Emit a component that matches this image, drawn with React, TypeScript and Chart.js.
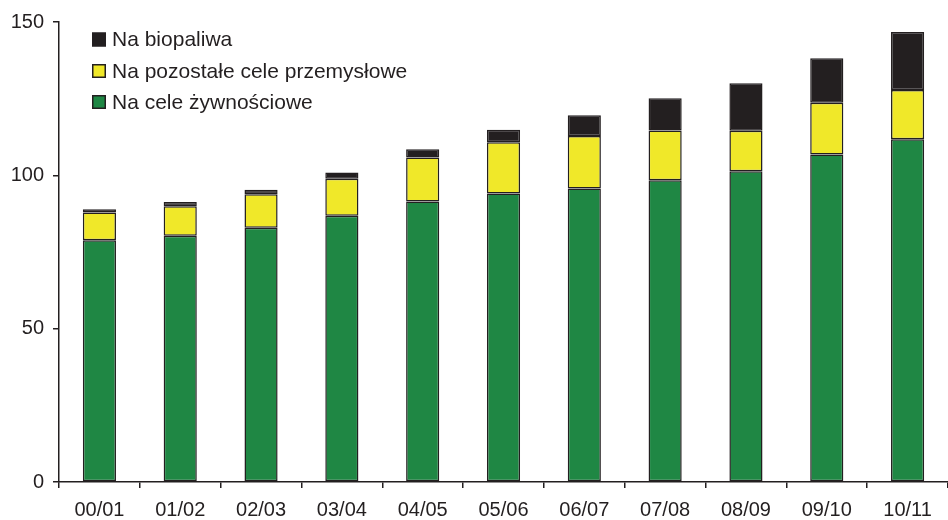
import React, { useEffect, useRef } from "react";
import { Chart, registerables } from "chart.js";

Chart.register(...registerables);

// Marketing years
const seasons = ["00/01", "01/02", "02/03", "03/04", "04/05", "05/06", "06/07", "07/08", "08/09", "09/10", "10/11"];

// Use of vegetable oils (mln t), stacked components
const foodUse = [78.8, 80.3, 82.9, 86.8, 91.5, 94.1, 95.7, 98.4, 101.3, 106.8, 111.8];
const otherIndustrialUse = [9.1, 9.6, 10.9, 12.1, 14.3, 16.7, 17.1, 16.2, 13.2, 16.9, 16.0];
const biofuelUse = [1.0, 1.4, 1.5, 2.0, 2.7, 4.1, 6.8, 10.5, 15.5, 14.5, 18.9];

const yTicks = [0, 50, 100, 150];

const INK = "#231f20";
const GREEN = "#1f8744";
const YELLOW = "#f0e829";
const FONT = "'Liberation Sans', Arial, sans-serif";

// Vertical legend drawn inside the plot area, top item = last dataset
const insideLegend = {
  id: "insideLegend",
  afterDraw(chart: any) {
    const ctx = chart.ctx as CanvasRenderingContext2D;
    const sets = chart.data.datasets.slice().reverse();
    const x0 = 92;
    const rows = [39.5, 71, 102];
    ctx.save();
    ctx.font = `21px ${FONT}`;
    ctx.textBaseline = "middle";
    ctx.textAlign = "left";
    sets.forEach((ds: any, i: number) => {
      const cy = rows[i];
      ctx.fillStyle = ds.backgroundColor;
      ctx.fillRect(x0, cy - 7, 14, 14);
      ctx.lineWidth = 1.5;
      ctx.strokeStyle = INK;
      ctx.strokeRect(x0 + 0.75, cy - 6.25, 12.5, 12.5);
      ctx.fillStyle = INK;
      ctx.fillText(ds.label, x0 + 20, cy + 1);
    });
    ctx.restore();
  },
};

export default function App() {
  const canvasRef = useRef<HTMLCanvasElement | null>(null);

  useEffect(() => {
    document.body.style.margin = "0";
    const canvas = canvasRef.current;
    if (!canvas) return;

    const barStyle = {
      borderColor: INK,
      borderWidth: 1.5,
      borderSkipped: false as const,
      inflateAmount: 0,
      barPercentage: 0.41,
      categoryPercentage: 1,
    };

    const chart = new Chart(canvas, {
      type: "bar",
      data: {
        labels: seasons,
        datasets: [
          { label: "Na cele żywnościowe", data: foodUse, backgroundColor: GREEN, ...barStyle },
          { label: "Na pozostałe cele przemysłowe", data: otherIndustrialUse, backgroundColor: YELLOW, ...barStyle },
          { label: "Na biopaliwa", data: biofuelUse, backgroundColor: INK, ...barStyle },
        ],
      },
      options: {
        responsive: false,
        animation: false,
        layout: { padding: { top: 22, right: -3, left: 0, bottom: 0 } },
        plugins: {
          legend: { display: false },
          tooltip: { enabled: false },
        },
        scales: {
          x: {
            stacked: true,
            offset: true,
            grid: {
              offset: true,
              drawOnChartArea: false,
              tickLength: 6,
              color: INK,
              lineWidth: 1.5,
            },
            border: { color: INK, width: 1.5 },
            ticks: {
              color: INK,
              font: { family: FONT, size: 20 },
              padding: 10,
              maxRotation: 0,
            },
            afterFit(scale: any) {
              scale.height = 38;
            },
          },
          y: {
            stacked: true,
            min: 0,
            max: 150,
            afterBuildTicks(scale: any) {
              scale.ticks = yTicks.map((v) => ({ value: v }));
            },
            grid: {
              drawOnChartArea: false,
              tickLength: 6,
              color: INK,
              lineWidth: 1.5,
            },
            border: { color: INK, width: 1.5 },
            ticks: {
              color: INK,
              font: { family: FONT, size: 20 },
              padding: 9,
            },
            afterFit(scale: any) {
              scale.width = 59;
            },
          },
        },
      },
      plugins: [insideLegend],
    });

    return () => chart.destroy();
  }, []);

  return (
    <div style={{ width: 948, height: 520, position: "relative", background: "#fff" }}>
      <canvas ref={canvasRef} width={948} height={520} style={{ display: "block" }} />
    </div>
  );
}
